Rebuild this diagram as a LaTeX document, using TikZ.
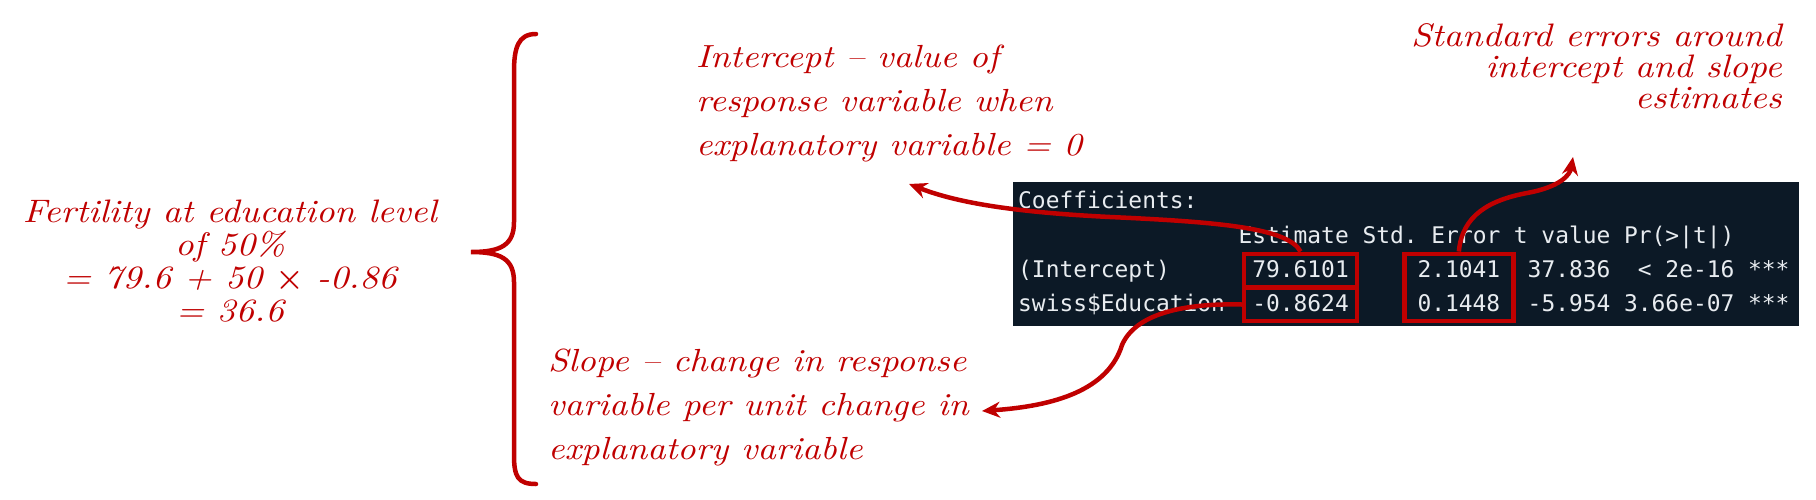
\documentclass[tikz,border=0pt]{standalone}
\usepackage{amsmath}
\usepackage{fontspec}
\setmonofont{DejaVu Sans Mono}
\newfontfamily\notefont{lmroman10-italic.otf}[FakeStretch=1.12, Ligatures=TeX]
\usepackage{tikz}
\usetikzlibrary{arrows.meta,fit}
\definecolor{notered}{RGB}{192,0,0}
\definecolor{consolebg}{RGB}{12,25,38}
\definecolor{consoletext}{RGB}{232,236,240}

\tikzset{
  note/.style={text=notered, inner sep=0pt, font=\fontsize{32}{44}\selectfont\notefont},
  rout/.style={text=consoletext, inner sep=0pt, anchor=base west, text height=17pt, text depth=4pt, font=\fontsize{22.9}{34}\selectfont\ttfamily},
  redbox/.style={draw=notered, line width=4.5pt, inner xsep=8pt, inner ysep=6pt},
  notearrow/.style={draw=notered, line width=4.5pt, -{Stealth[length=18pt,width=16pt]}},
}

\begin{document}
\begin{tikzpicture}[x=1pt,y=1pt,yscale=-1]
\path[use as bounding box, fill=white] (0,0) rectangle (1816,499);

%Shape: Brace
\draw[notered, line width=4.5pt, line cap=round] (536,34) .. controls (518,34) and (514,48) .. (514,72) -- (514,222) .. controls (514,245) and (501,252) .. (471,252) .. controls (501,252) and (514,259) .. (514,282) -- (514,455) .. controls (514,477) and (518,484) .. (536,484) ;

% Text Node
\node[note, align=center, anchor=north, font=\fontsize{32.5}{33}\selectfont\notefont] (fertility) at (230,200) {Fertility at education level\\ of 50\%\\ = 79.6 + 50 {\rmfamily\upshape\bfseries ×} -0.86\\ = 36.6};
% Text Node
\node[note, align=left, anchor=north west] (intercept) at (696,45) {Intercept -- value of\\ response variable when\\ explanatory variable = 0};
% Text Node
\node[note, align=right, anchor=north east, font=\fontsize{32.5}{31}\selectfont\notefont] (stderr) at (1782,23) {Standard errors around\\ intercept and slope\\ estimates};
% Text Node
\node[note, align=left, anchor=north west] (slope) at (548,349) {Slope -- change in response\\ variable per unit change in\\ explanatory variable};

%Shape: Rectangle
\fill[consolebg] (1013,182) rectangle (1799,326);

% Console rows
\node[rout] (coef) at (1018,208) {Coefficients:};
\node[rout] (hest) at (1238.3,243) {Estimate};
\node[rout] (hse) at (1362.3,243) {Std. Error};
\node[rout] (ht) at (1513.7,243) {t value};
\node[rout] (hp) at (1623.9,243) {Pr(>|t|)};
\node[rout] (rowint) at (1018,277) {(Intercept)};
\node[rout] (est1) at (1252.1,277) {79.6101};
\node[rout] (se1) at (1417.3,277) {2.1041};
\node[rout] (tv1) at (1527.5,277) {37.836};
\node[rout] (pv1) at (1637.7,277) {< 2e-16};
\node[rout] (sig1) at (1747.8,277) {***};
\node[rout] (rowedu) at (1018,311) {swiss\$Education};
\node[rout] (est2) at (1252.1,311) {-0.8624};
\node[rout] (se2) at (1417.3,311) {0.1448};
\node[rout] (tv2) at (1527.5,311) {-5.954};
\node[rout] (pv2) at (1623.9,311) {3.66e-07};
\node[rout] (sig2) at (1747.8,311) {***};

%Shape: Red boxes
\node[redbox, fit=(est1)] (est1box) {};
\node[redbox, fit=(est2)] (est2box) {};
\node[redbox, inner xsep=13pt, fit=(se1) (se2)] (sebox) {};

%Curved Arrows
\coordinate (itip) at (909,184);
\coordinate (setip) at (1573,157);
\coordinate (stip) at (982,411);
\draw[notearrow] (est1box.north) .. controls (1288,228) and (1220,222) .. (1110,217) .. controls (1010,212) and (955,202) .. (itip);
\draw[notearrow] (sebox.north) .. controls (1462,215) and (1490,200) .. (1527,193) .. controls (1560,187) and (1570,175) .. (setip);
\draw[notearrow] (est2box.west) .. controls (1180,303) and (1135,315) .. (1122,345) .. controls (1108,390) and (1055,406) .. (stip);

\end{tikzpicture}
\end{document}
